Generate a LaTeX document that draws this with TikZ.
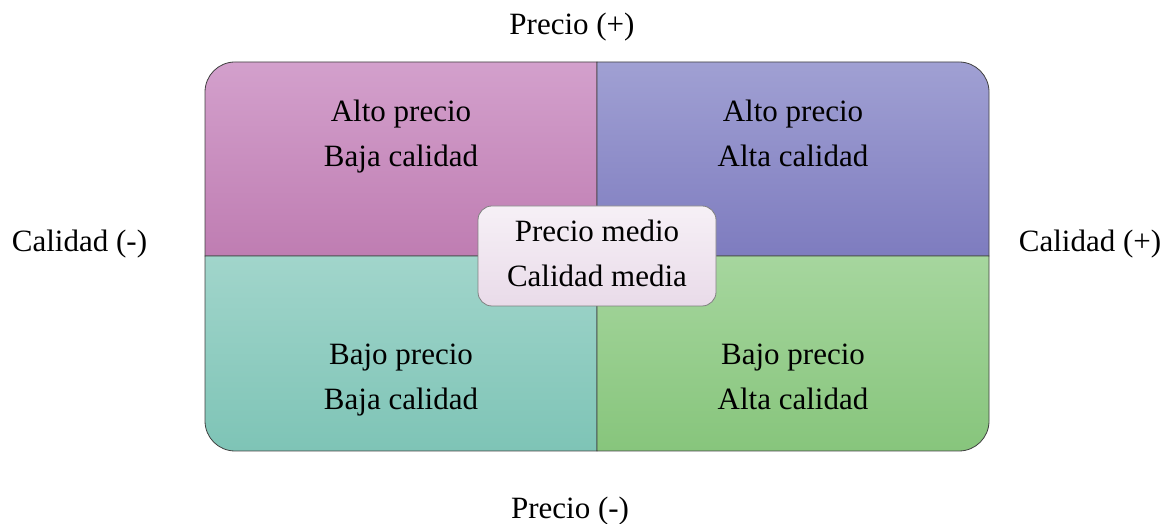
\documentclass[tikz,border=0pt]{standalone}
\usepackage{fontspec}
\setmainfont{Liberation Serif}
\begin{document}
\begin{tikzpicture}[x=1pt,y=1pt,
  lbl/.style={inner sep=0pt,anchor=base,font=\fontsize{31}{45}\selectfont},
  quad/.style={draw=black!75,line width=0.8pt}]
\definecolor{tlT}{HTML}{D3A0CC}\definecolor{tlB}{HTML}{BF7DB2}
\definecolor{trT}{HTML}{A0A0D3}\definecolor{trB}{HTML}{7E7CBF}
\definecolor{blT}{HTML}{A1D5CB}\definecolor{blB}{HTML}{7EC4B6}
\definecolor{brT}{HTML}{A6D69E}\definecolor{brB}{HTML}{87C57C}
\definecolor{cT}{HTML}{F6F0F6}\definecolor{cB}{HTML}{E9DBE9}
\useasboundingbox (0,0) rectangle (1166,524);
% quadrants
\shade[quad,top color=tlT,bottom color=tlB] (205,268) -- (205,432) arc[start angle=180,end angle=90,radius=30] -- (597,462) -- (597,268) -- cycle;
\shade[quad,top color=trT,bottom color=trB] (597,462) -- (959,462) arc[start angle=90,end angle=0,radius=30] -- (989,268) -- (597,268) -- cycle;
\shade[quad,top color=blT,bottom color=blB] (597,73) -- (235,73) arc[start angle=270,end angle=180,radius=30] -- (205,268) -- (597,268) -- cycle;
\shade[quad,top color=brT,bottom color=brB] (989,268) -- (989,103) arc[start angle=0,end angle=-90,radius=30] -- (597,73) -- (597,268) -- cycle;
% center box
\shade[draw=black!50,line width=0.8pt,rounded corners=14,top color=cT,bottom color=cB] (478,218) rectangle (716,318);
% texts
\node[lbl] (ptop) at (572,489) {Precio (+)};
\node[lbl] (pbot) at (570,5) {Precio (-)};
\node[lbl] (cneg) at (79.5,272) {Calidad (-)};
\node[lbl] (cpos) at (1090,272) {Calidad (+)};
\node[lbl] (tl1) at (401,402) {Alto precio};
\node[lbl] (tl2) at (401,357) {Baja calidad};
\node[lbl] (tr1) at (793,402) {Alto precio};
\node[lbl] (tr2) at (793,357) {Alta calidad};
\node[lbl] (bl1) at (401,159) {Bajo precio};
\node[lbl] (bl2) at (401,114) {Baja calidad};
\node[lbl] (br1) at (793,159) {Bajo precio};
\node[lbl] (br2) at (793,114) {Alta calidad};
\node[lbl] (c1) at (597,282) {Precio medio};
\node[lbl] (c2) at (597,237) {Calidad media};
\end{tikzpicture}
\end{document}
